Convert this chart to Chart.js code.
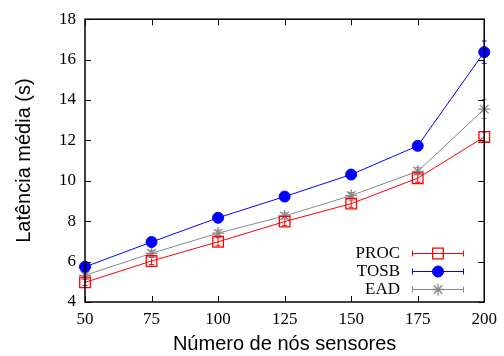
<!DOCTYPE html>
<html>
<head>
<meta charset="utf-8">
<script src="https://cdn.jsdelivr.net/npm/chart.js@4.4.0/dist/chart.umd.min.js"></script>
<style>
html, body { margin: 0; padding: 0; background: #fff; }
#wrap { width: 504px; height: 356px; }
</style>
</head>
<body>
<div id="wrap"><canvas id="latChart"></canvas></div>
<script>
// number of sensor nodes
const nodes = [50, 75, 100, 125, 150, 175, 200];

// average latency (s) and error bar half-height
const procLatency = [4.97, 6.03, 6.98, 7.98, 8.87, 10.13, 12.17];
const procErr = [0.15, 0.18, 0.2, 0.2, 0.18, 0.2, 0.25];
const tosbLatency = [5.74, 6.97, 8.17, 9.22, 10.31, 11.73, 16.37];
const tosbErr = [0.12, 0.12, 0.12, 0.12, 0.12, 0.15, 0.55];
const eadLatency = [5.32, 6.41, 7.41, 8.26, 9.27, 10.47, 13.55];
const eadErr = [0.15, 0.15, 0.15, 0.15, 0.15, 0.18, 0.47];

const xTicks = [50, 75, 100, 125, 150, 175, 200];
const yTicks = [4, 6, 8, 10, 12, 14, 16, 18];

const SERIF = '"Liberation Serif", "Times New Roman", serif';
const SANS = '"Liberation Sans", Arial, sans-serif';

const toPoints = (vals) => vals.map((v, i) => ({ x: nodes[i], y: v }));

// vertical error bars with small caps, under the markers
const errorBars = {
    id: 'errorBars',
    beforeDatasetsDraw(chart) {
        const ctx = chart.ctx;
        const xs = chart.scales.x, ys = chart.scales.y;
        chart.data.datasets.forEach((ds) => {
            ctx.save();
            ctx.strokeStyle = ds.borderColor;
            ctx.lineWidth = 1;
            ds.data.forEach((p, i) => {
                const e = ds.errors[i];
                const x = xs.getPixelForValue(p.x);
                const y1 = ys.getPixelForValue(p.y + e);
                const y2 = ys.getPixelForValue(p.y - e);
                ctx.beginPath();
                ctx.moveTo(x, y1); ctx.lineTo(x, y2);
                ctx.moveTo(x - 2.5, y1); ctx.lineTo(x + 2.5, y1);
                ctx.moveTo(x - 2.5, y2); ctx.lineTo(x + 2.5, y2);
                ctx.stroke();
            });
            ctx.restore();
        });
    }
};

// gnuplot-like frame with inward ticks on all four sides
const frame = {
    id: 'frame',
    afterDraw(chart) {
        const ctx = chart.ctx;
        const a = chart.chartArea;
        const xs = chart.scales.x, ys = chart.scales.y;
        const len = 6;
        ctx.save();
        ctx.strokeStyle = '#000';
        ctx.lineWidth = 1.5;
        ctx.strokeRect(a.left, a.top, a.right - a.left, a.bottom - a.top);
        ctx.lineWidth = 1;
        ctx.beginPath();
        xTicks.forEach((v) => {
            const x = Math.round(xs.getPixelForValue(v)) + 0.5;
            ctx.moveTo(x, a.bottom); ctx.lineTo(x, a.bottom - len);
            ctx.moveTo(x, a.top); ctx.lineTo(x, a.top + len);
        });
        yTicks.forEach((v) => {
            const y = Math.round(ys.getPixelForValue(v)) + 0.5;
            ctx.moveTo(a.left, y); ctx.lineTo(a.left + len, y);
            ctx.moveTo(a.right, y); ctx.lineTo(a.right - len, y);
        });
        ctx.stroke();
        ctx.restore();
    }
};

// legend: label on the left, errorbar sample with marker on the right
const keyBox = {
    id: 'keyBox',
    afterDraw(chart) {
        const ctx = chart.ctx;
        const rows = [253, 271, 289];
        const textRight = 400, lineL = 412, lineR = 464, mark = 438;
        ctx.save();
        chart.data.datasets.forEach((ds, i) => {
            const y = rows[i];
            ctx.fillStyle = '#000';
            ctx.font = '17px ' + SERIF;
            ctx.textAlign = 'right';
            ctx.textBaseline = 'middle';
            ctx.fillText(ds.label, textRight, y + 1);
            ctx.strokeStyle = ds.borderColor;
            ctx.lineWidth = 1;
            ctx.beginPath();
            ctx.moveTo(lineL, y + 0.5); ctx.lineTo(lineR, y + 0.5);
            ctx.moveTo(lineL + 0.5, y - 2.5); ctx.lineTo(lineL + 0.5, y + 3.5);
            ctx.moveTo(lineR - 0.5, y - 2.5); ctx.lineTo(lineR - 0.5, y + 3.5);
            ctx.stroke();
            ctx.fillStyle = ds.pointBackgroundColor;
            ctx.strokeStyle = ds.pointBorderColor;
            ctx.lineWidth = ds.pointBorderWidth;
            Chart.helpers.drawPoint(ctx, {
                pointStyle: ds.pointStyle,
                radius: ds.pointRadius,
                rotation: 0,
                borderWidth: ds.pointBorderWidth
            }, mark, y + 0.5);
        });
        ctx.restore();
    }
};

new Chart(document.getElementById('latChart'), {
    type: 'line',
    data: {
        datasets: [
            {
                label: 'PROC',
                data: toPoints(procLatency),
                errors: procErr,
                borderColor: '#ff0000',
                borderWidth: 1,
                pointStyle: 'rect',
                pointRadius: 7.5,
                pointBorderWidth: 1.3,
                pointBorderColor: '#ff0000',
                pointBackgroundColor: 'rgba(0,0,0,0)',
                clip: false,
                order: 1
            },
            {
                label: 'TOSB',
                data: toPoints(tosbLatency),
                errors: tosbErr,
                borderColor: '#0000ff',
                borderWidth: 1,
                pointStyle: 'circle',
                pointRadius: 5.5,
                pointBorderWidth: 1,
                pointBorderColor: '#0000ff',
                pointBackgroundColor: '#0000ff',
                clip: false,
                order: 2
            },
            {
                label: 'EAD',
                data: toPoints(eadLatency),
                errors: eadErr,
                borderColor: '#888888',
                borderWidth: 1,
                pointStyle: 'star',
                pointRadius: 6,
                pointBorderWidth: 1.3,
                pointBorderColor: '#888888',
                pointBackgroundColor: '#888888',
                clip: false,
                order: 3
            }
        ]
    },
    options: {
        responsive: true,
        maintainAspectRatio: false,
        animation: false,
        layout: { padding: { left: 8, right: 18, top: 19, bottom: 0 } },
        plugins: {
            legend: { display: false },
            tooltip: { enabled: false }
        },
        scales: {
            x: {
                type: 'linear',
                min: 50,
                max: 200,
                afterBuildTicks: (s) => { s.ticks = xTicks.map((v) => ({ value: v })); },
                afterFit: (s) => { s.height = 54; },
                grid: { display: false, drawTicks: false },
                border: { display: false },
                ticks: { color: '#000', padding: 7, font: { family: SERIF, size: 17 } },
                title: {
                    display: true,
                    text: 'Número de nós sensores',
                    color: '#000',
                    padding: { top: 0, bottom: 0 },
                    font: { family: SANS, size: 20 }
                }
            },
            y: {
                min: 4,
                max: 18,
                afterBuildTicks: (s) => { s.ticks = yTicks.map((v) => ({ value: v })); },
                afterFit: (s) => { s.width = 77; },
                grid: { display: false, drawTicks: false },
                border: { display: false },
                ticks: { color: '#000', padding: 9, font: { family: SERIF, size: 17 } },
                title: {
                    display: true,
                    text: 'Latência média (s)',
                    color: '#000',
                    padding: { top: 4, bottom: 0 },
                    font: { family: SANS, size: 20 }
                }
            }
        }
    },
    plugins: [errorBars, frame, keyBox]
});
</script>
</body>
</html>
